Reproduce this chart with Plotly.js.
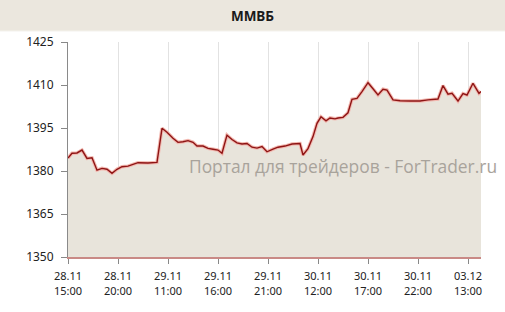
<!DOCTYPE html>
<html>
<head>
<meta charset="utf-8">
<script src="https://cdn.plot.ly/plotly-3.0.1.min.js"></script>
<style>html,body{margin:0;padding:0;background:#fff;}#chart{width:505px;height:312px;}</style>
</head>
<body>
<div id="chart"></div>
<script>
// Position along the time axis (10 units between labelled ticks)
var xPos = [0,0.8,1.8,2.8,3.8,4.8,5.8,6.8,7.8,8.8,9.8,10.8,12,13,14,16,17.8,18.8,19.8,21,22,23,24,25,25.8,27,28,29,30,30.8,31.8,32.8,33.8,34.8,35.8,36.8,37.8,38.8,39.8,41,42,43.4,44.8,46.4,47,48,49,49.8,50.6,51.6,52.4,53.4,54,55,56,56.8,57.8,58.8,60,61,62,63,63.8,65,66.4,68.4,70.4,72,74,75,76,76.8,78,79,79.8,81,82.2,82.6];
var values = [1384.5,1386.2,1386.3,1387.3,1384.4,1384.6,1380.3,1380.9,1380.6,1379.2,1380.6,1381.5,1381.7,1382.2,1382.9,1382.8,1383.0,1394.9,1393.5,1391.4,1390.0,1390.2,1390.6,1390.0,1388.7,1388.7,1387.9,1387.6,1387.3,1386.2,1392.5,1391.0,1389.8,1389.4,1389.6,1388.3,1388.0,1388.5,1386.7,1387.6,1388.3,1388.7,1389.4,1389.6,1385.6,1387.8,1392.0,1396.6,1398.9,1397.5,1398.5,1398.2,1398.5,1398.7,1400.3,1405.0,1405.3,1407.7,1410.8,1408.7,1406.5,1408.5,1408.2,1404.8,1404.5,1404.4,1404.4,1404.8,1405.1,1409.8,1406.8,1407.1,1404.4,1407.0,1406.5,1410.6,1407.1,1407.7];
var tickPos = [0,10,20,30,40,50,60,70,80];
var tickLabels = ["28.11<br>15:00","28.11<br>20:00","29.11<br>11:00","29.11<br>16:00","29.11<br>21:00","30.11<br>12:00","30.11<br>17:00","30.11<br>22:00","03.12<br>13:00"];
var yTicks = [1350,1365,1380,1395,1410,1425];
var chartTitle = "ММВБ";
var watermark = "Портал для трейдеров - ForTrader.ru";

var W = 505, H = 312, L = 68, R = 24, T = 42, B = 55;
var pw = W - L - R, ph = H - T - B;

var traces = [
  {x: xPos, y: values, type: 'scatter', mode: 'lines', fill: 'tozeroy',
   fillcolor: '#e8e4db', line: {color: '#f2b8b0', width: 3.5}, hoverinfo: 'skip'},
  {x: xPos, y: values, type: 'scatter', mode: 'lines',
   line: {color: '#8e1414', width: 1.4}}
];

var layout = {
  width: W, height: H,
  margin: {l: L, r: R, t: T, b: B},
  paper_bgcolor: '#ffffff', plot_bgcolor: '#ffffff',
  showlegend: false,
  font: {family: 'Noto Sans, sans-serif', color: '#222'},
  title: {text: '<b>' + chartTitle + '</b>', font: {size: 13.5, color: '#1a1a1a', family: 'Noto Sans, sans-serif'},
          x: 0.5, xref: 'container', y: 1 - 16 / H, yref: 'container', yanchor: 'middle'},
  xaxis: {range: [0, 82.6], tickmode: 'array', tickvals: tickPos, ticktext: tickLabels,
          showgrid: true, gridcolor: '#e2e2e2', gridwidth: 1, zeroline: false,
          showline: true, linecolor: '#c98a86', linewidth: 2,
          ticks: 'outside', ticklen: 5, tickcolor: '#888', tickfont: {size: 11, color: '#222'}, ticklabelstandoff: 3, fixedrange: true},
  yaxis: {range: [1350, 1425], tickmode: 'array', tickvals: yTicks, showgrid: false, zeroline: false,
          showline: true, linecolor: '#8a8a8a', linewidth: 1,
          ticks: 'outside', ticklen: 6, tickcolor: '#888', tickfont: {size: 12, color: '#222'}, ticklabelstandoff: 5, fixedrange: true},
  shapes: [
    {type: 'rect', xref: 'paper', yref: 'paper', layer: 'below',
     x0: -L / pw, x1: 1 + R / pw, y0: 1 + (T - 31) / ph, y1: 1 + T / ph,
     fillcolor: '#ebe7de', line: {width: 0}},
    {type: 'line', xref: 'paper', yref: 'paper', layer: 'below',
     x0: -L / pw, x1: 1 + R / pw, y0: 1 + (T - 31) / ph, y1: 1 + (T - 31) / ph,
     line: {color: '#f4f2ed', width: 1}}
  ],
  annotations: [
    {text: watermark, xref: 'paper', yref: 'paper', x: (343 - L) / pw, y: 1 - (166 - T) / ph,
     xanchor: 'center', yanchor: 'middle', showarrow: false,
     font: {size: 17.4, color: '#a8a39b', family: 'Open Sans, sans-serif'}}
  ]
};

Plotly.newPlot('chart', traces, layout, {displayModeBar: false, staticPlot: true});
</script>
</body>
</html>
